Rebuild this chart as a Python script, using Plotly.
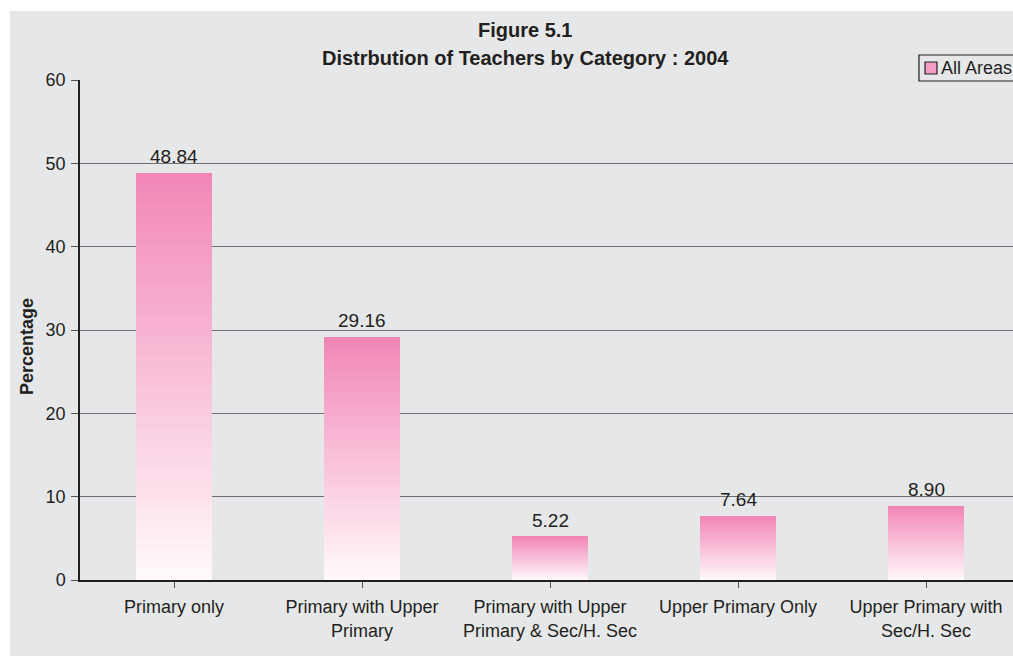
import plotly.graph_objects as go

categories = ["Primary only", "Primary with Upper<br>Primary", "Primary with Upper<br>Primary & Sec/H. Sec",
              "Upper Primary Only", "Upper Primary with<br>Sec/H. Sec"]
values = [48.84, 29.16, 5.22, 7.64, 8.90]
labels = ["48.84", "29.16", "5.22", "7.64", "8.90"]
series_name = "All Areas"
y_ticks = [0, 10, 20, 30, 40, 50, 60]

FONT = "Liberation Sans, Arial, sans-serif"
TXT = "#231f20"
BG = "#e6e7e8"

W, H = 1013, 658
L, T = 80, 80
PW, PH = 933, 500


def px(x):  # window pixel -> paper x
    return (x - L) / PW


def py(y):  # window pixel -> paper y
    return (T + PH - y) / PH


top_rgb = (242, 134, 182)
bot_rgb = (255, 250, 252)
N = 40

fig = go.Figure()
xs = list(range(len(categories)))
for i in range(N):
    t = (i + 0.5) / N
    r = round(bot_rgb[0] + (top_rgb[0] - bot_rgb[0]) * t)
    g = round(bot_rgb[1] + (top_rgb[1] - bot_rgb[1]) * t)
    b = round(bot_rgb[2] + (top_rgb[2] - bot_rgb[2]) * t)
    fig.add_trace(go.Bar(
        x=xs, y=[v / N for v in values], width=0.405,
        marker=dict(color=f"rgb({r},{g},{b})", line=dict(width=0)),
        name=series_name, showlegend=False, hoverinfo="skip"))

for x, v, lab in zip(xs, values, labels):
    fig.add_annotation(x=x, y=v, text=lab, showarrow=False, yanchor="bottom", yshift=4,
                       font=dict(family=FONT, size=19, color=TXT))

# gray panel background
fig.add_shape(type="rect", xref="paper", yref="paper", x0=px(10), x1=px(1020), y0=py(656), y1=py(11),
              fillcolor=BG, line=dict(width=0), layer="below")

# title
fig.add_annotation(xref="paper", yref="paper", x=px(525), y=py(30),
                   text="<b>Figure 5.1</b>", showarrow=False, yanchor="middle",
                   font=dict(family=FONT, size=20, color=TXT))
fig.add_annotation(xref="paper", yref="paper", x=px(525), y=py(58),
                   text="<b>Distrbution of Teachers by Category : 2004</b>", showarrow=False, yanchor="middle",
                   font=dict(family=FONT, size=20, color=TXT))

# y-axis title
fig.add_annotation(xref="paper", yref="paper", x=px(27), y=py(347), text="<b>Percentage</b>",
                   textangle=-90, showarrow=False, xanchor="center", yanchor="middle",
                   font=dict(family=FONT, size=18, color=TXT))

# legend (drawn manually)
fig.add_shape(type="rect", xref="paper", yref="paper", x0=px(919), x1=px(1014), y0=py(81), y1=py(55),
              fillcolor=BG, line=dict(color=TXT, width=1.2), layer="above")
fig.add_shape(type="rect", xref="paper", yref="paper", x0=px(925), x1=px(937), y0=py(74), y1=py(62),
              fillcolor="#f39cc4", line=dict(color=TXT, width=1.2), layer="above")
fig.add_annotation(xref="paper", yref="paper", x=px(939), y=py(68), text=series_name,
                   showarrow=False, xanchor="left", yanchor="middle",
                   font=dict(family=FONT, size=18, color=TXT))

fig.update_layout(
    width=W, height=H,
    margin=dict(l=L, r=W - L - PW, t=T, b=H - T - PH, autoexpand=False),
    paper_bgcolor="white", plot_bgcolor="rgba(0,0,0,0)",
    barmode="stack", bargap=0,
    font=dict(family=FONT, size=18, color=TXT),
    showlegend=False,
    xaxis=dict(range=[-0.5, -0.5 + PW / 188], tickmode="array", tickvals=xs, ticktext=categories,
               tickson="boundaries", ticks="outside", ticklen=6, tickcolor="#555",
               ticklabelstandoff=4,
               showline=True, linecolor=TXT, linewidth=1.5, showgrid=False, zeroline=False,
               tickfont=dict(size=18, color=TXT)),
    yaxis=dict(range=[0, 60], tickmode="array", tickvals=y_ticks, ticks="outside", ticklen=7,
               tickcolor="#555", showline=True, linecolor=TXT, linewidth=1.5,
               ticklabelstandoff=2,
               showgrid=True, gridcolor="#6d6e71", gridwidth=1.2, zeroline=False,
               tickfont=dict(size=18, color=TXT)),
)

fig.write_html("out.html", config={"displayModeBar": False},
               post_script="document.body.style.margin='0px';document.body.style.overflow='hidden';")
